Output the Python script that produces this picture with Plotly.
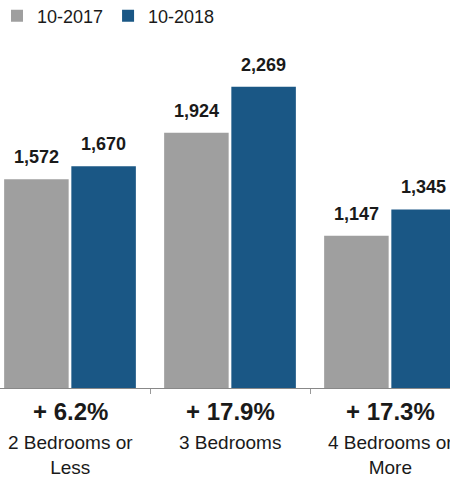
import plotly.graph_objects as go

categories = ["2 Bedrooms or<br>Less", "3 Bedrooms", "4 Bedrooms or<br>More"]
series_names = ["10-2017", "10-2018"]
values_2017 = [1572, 1924, 1147]
values_2018 = [1670, 2269, 1345]
change_labels = ["+ 6.2%", "+ 17.9%", "+ 17.3%"]

colors = ["#9f9f9f", "#1a5785"]
FONT = "Liberation Sans, Arial, Helvetica, sans-serif"
TXT = "#1a1a1a"

xs = list(range(len(categories)))

fig = go.Figure()
for name, vals, col in zip(series_names, [values_2017, values_2018], colors):
    fig.add_trace(go.Bar(x=xs, y=vals, name=name, marker=dict(color=col, line=dict(width=0))))

ann = []
offsets = [-0.21, 0.21]
for vals, off in zip([values_2017, values_2018], offsets):
    for i, v in enumerate(vals):
        ann.append(dict(x=i + off, y=v, text=f"<b>{v:,}</b>", showarrow=False,
                        xref="x", yref="y", yanchor="bottom", yshift=10,
                        font=dict(family=FONT, size=18, color=TXT)))
for i, (lab, cat) in enumerate(zip(change_labels, categories)):
    ann.append(dict(x=i, y=0, text=f"<b>{lab}</b>", showarrow=False, xref="x", yref="y",
                    yanchor="middle", yshift=-23, font=dict(family=FONT, size=24, color=TXT)))
    ann.append(dict(x=i, y=0, text=cat, showarrow=False, xref="x", yref="y",
                    yanchor="top", yshift=-42, font=dict(family=FONT, size=19, color=TXT)))

fig.update_layout(
    width=450, height=477,
    margin=dict(l=0, r=0, t=40, b=89, autoexpand=False),
    paper_bgcolor="white", plot_bgcolor="white",
    barmode="group", bargap=0.16, bargroupgap=0.04,
    font=dict(family=FONT, color=TXT),
    showlegend=True,
    legend=dict(orientation="h", x=-3/450, xanchor="left", y=1 - 16/477, yanchor="middle",
                yref="container", font=dict(family=FONT, size=18, color=TXT), itemwidth=30,
                traceorder="normal"),
    annotations=ann,
    xaxis=dict(range=[-0.4375, 2.375], tickvals=[0.5, 1.5], ticktext=["", ""], ticks="outside",
               ticklen=5, tickcolor="#999", showline=True, linecolor="#888", linewidth=1,
               showgrid=False, zeroline=False, fixedrange=True),
    yaxis=dict(range=[0, 2622], visible=False, showgrid=False, zeroline=False, fixedrange=True),
)
fig.write_html("out.html", config={"displayModeBar": False},
               post_script="document.body.style.margin='0';document.body.style.overflow='hidden';")
